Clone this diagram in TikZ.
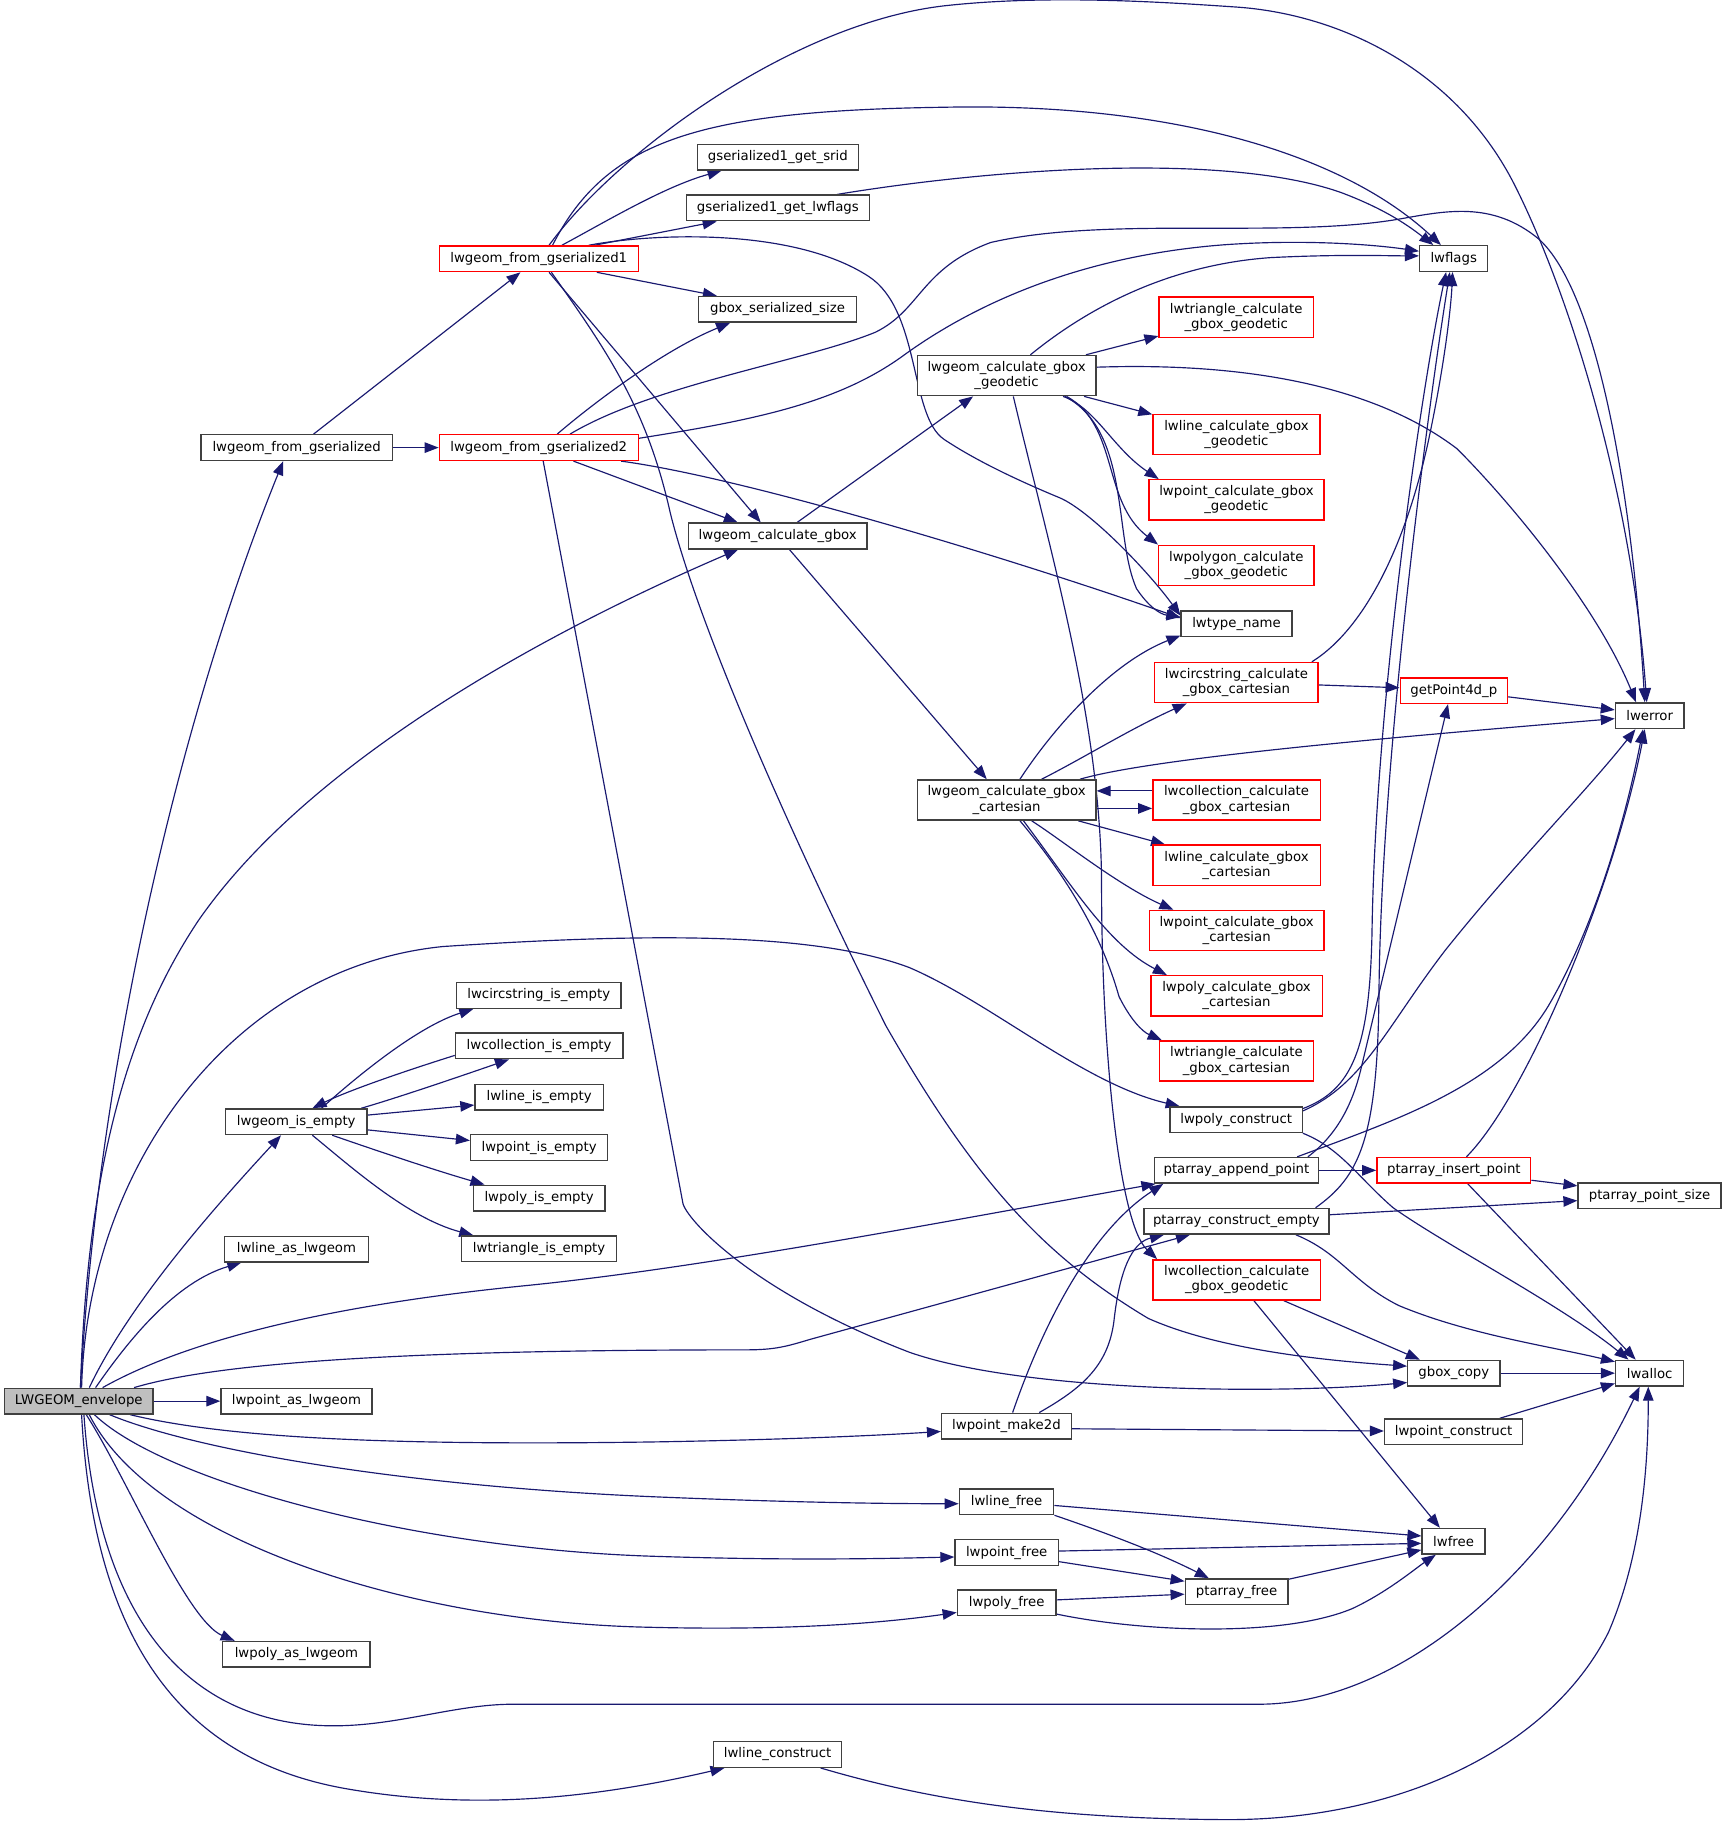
\documentclass[tikz,border=0pt]{standalone}
\usepackage{fontspec}
\setmainfont{DejaVu Sans}
\usetikzlibrary{arrows.meta}
\pgfdeclarelayer{bg}
\pgfsetlayers{bg,main}
\definecolor{edgec}{HTML}{191970}
\definecolor{boxc}{HTML}{404040}
\definecolor{envfill}{HTML}{BFBFBF}
\newcommand{\fnt}{\fontsize{11.4pt}{12.9pt}\selectfont}
\tikzset{
  fn/.style={draw=boxc, line width=1.2pt, fill=white, inner sep=0pt, minimum height=22pt, font=\fnt, align=center, text=black},
  fnr/.style={fn, draw=red},
  fntwo/.style={minimum height=34.5pt},
  ed/.style={draw=edgec, line width=1pt, -{Triangle[length=12pt,width=9pt]}},
}
\begin{document}
\begin{tikzpicture}[x=1pt,y=-1pt]
\useasboundingbox (0,0) rectangle (1481.5,1568.2);
% nodes
\node[fn, fill=envfill, minimum width=127.6pt] (env) at (67.6,1202) {LWGEOM\_envelope};
\node[fn, minimum width=164pt] (lfg) at (254.5,384) {lwgeom\_from\_gserialized};
\node[fnr, minimum width=170.6pt] (g1) at (462.2,222) {lwgeom\_from\_gserialized1};
\node[fnr, minimum width=170.6pt] (g2) at (462.2,384) {lwgeom\_from\_gserialized2};
\node[fn, minimum width=138pt] (srid) at (667.3,134.8) {gserialized1\_get\_srid};
\node[fn, minimum width=157pt] (glwf) at (667.3,178.4) {gserialized1\_get\_lwflags};
\node[fn, minimum width=135.3pt] (gss) at (667,265.4) {gbox\_serialized\_size};
\node[fn, minimum width=153.4pt] (lcg) at (667.2,459.8) {lwgeom\_calculate\_gbox};
\node[fn, minimum width=58.4pt] (lwflags) at (1247.1,221.8) {lwflags};
\node[fnr, fntwo, minimum width=132.3pt] (trig) at (1060.5,272.2) {lwtriangle\_calculate\\\_gbox\_geodetic};
\node[fn, fntwo, minimum width=153.3pt] (geo) at (863.5,322.2) {lwgeom\_calculate\_gbox\\\_geodetic};
\node[fnr, fntwo, minimum width=143.2pt] (lineg) at (1060.7,372.6) {lwline\_calculate\_gbox\\\_geodetic};
\node[fnr, fntwo, minimum width=150.2pt] (pointg) at (1060.7,428.8) {lwpoint\_calculate\_gbox\\\_geodetic};
\node[fnr, fntwo, minimum width=133.2pt] (polyg) at (1060.6,485) {lwpolygon\_calculate\\\_gbox\_geodetic};
\node[fn, minimum width=95pt] (ltn) at (1060.8,535.2) {lwtype\_name};
\node[fnr, fntwo, minimum width=140.2pt] (circc) at (1060.7,585.6) {lwcircstring\_calculate\\\_gbox\_cartesian};
\node[fnr, minimum width=92pt] (gp4d) at (1247.2,592.5) {getPoint4d\_p};
\node[fn, minimum width=58.7pt] (lwerror) at (1415.2,614) {lwerror};
\node[fn, fntwo, minimum width=153.3pt] (cart) at (863.5,686.3) {lwgeom\_calculate\_gbox\\\_cartesian};
\node[fnr, fntwo, minimum width=143.7pt] (collc) at (1060.8,686.3) {lwcollection\_calculate\\\_gbox\_cartesian};
\node[fnr, fntwo, minimum width=143.7pt] (linec) at (1060.8,742.3) {lwline\_calculate\_gbox\\\_cartesian};
\node[fnr, fntwo, minimum width=150pt] (pointc) at (1060.9,798.3) {lwpoint\_calculate\_gbox\\\_cartesian};
\node[fnr, fntwo, minimum width=147pt] (polycc) at (1060.8,854.3) {lwpoly\_calculate\_gbox\\\_cartesian};
\node[fnr, fntwo, minimum width=132pt] (tric) at (1060.7,910.2) {lwtriangle\_calculate\\\_gbox\_cartesian};
\node[fn, minimum width=113.3pt] (lpcon) at (1060.5,960.6) {lwpoly\_construct};
\node[fn, minimum width=140.8pt] (pap) at (1060.7,1004) {ptarray\_append\_point};
\node[fnr, minimum width=132pt] (pip) at (1247.2,1004) {ptarray\_insert\_point};
\node[fn, minimum width=122.6pt] (pps) at (1415.1,1025.7) {ptarray\_point\_size};
\node[fn, minimum width=158.8pt] (pce) at (1060.7,1047.7) {ptarray\_construct\_empty};
\node[fnr, fntwo, minimum width=143.4pt] (collg) at (1060.9,1098) {lwcollection\_calculate\\\_gbox\_geodetic};
\node[fn, minimum width=79pt] (gbc) at (1247.2,1178) {gbox\_copy};
\node[fn, minimum width=58.4pt] (lwalloc) at (1415.2,1178) {lwalloc};
\node[fn, minimum width=118.4pt] (lptc) at (1247,1228.3) {lwpoint\_construct};
\node[fn, minimum width=111.2pt] (mk2d) at (863.4,1223.4) {lwpoint\_make2d};
\node[fn, minimum width=81pt] (lwlf) at (863.5,1288.3) {lwline\_free};
\node[fn, minimum width=54pt] (lwfree) at (1247,1322.2) {lwfree};
\node[fn, minimum width=88.6pt] (lwptf) at (863.6,1331.9) {lwpoint\_free};
\node[fn, minimum width=88pt] (ptf) at (1060.8,1365.5) {ptarray\_free};
\node[fn, minimum width=84.7pt] (lwpf) at (863.6,1375.1) {lwpoly\_free};
\node[fn, minimum width=110pt] (lwlc) at (667.1,1505.1) {lwline\_construct};
\node[fn, minimum width=141pt] (cis) at (462.2,854) {lwcircstring\_is\_empty};
\node[fn, minimum width=143.6pt] (colis) at (462.5,897.3) {lwcollection\_is\_empty};
\node[fn, minimum width=110pt] (lis) at (462.5,941.1) {lwline\_is\_empty};
\node[fn, minimum width=117.6pt] (pis) at (462.5,984.5) {lwpoint\_is\_empty};
\node[fn, minimum width=113pt] (polyis) at (462.5,1027.8) {lwpoly\_is\_empty};
\node[fn, minimum width=133pt] (tris) at (462.5,1071.3) {lwtriangle\_is\_empty};
\node[fn, minimum width=121.4pt] (gie) at (254.1,962.3) {lwgeom\_is\_empty};
\node[fn, minimum width=123.4pt] (lala) at (254.3,1071.5) {lwline\_as\_lwgeom};
\node[fn, minimum width=129.4pt] (lpal) at (254.3,1202) {lwpoint\_as\_lwgeom};
\node[fn, minimum width=126.5pt] (lpoal) at (254.3,1419.2) {lwpoly\_as\_lwgeom};
% edges
\begin{pgfonlayer}{bg}
\fill[white] (0,0) rectangle (1481.5,1568.2);
% LWGEOM_envelope
\draw[ed] ([xshift=1.4pt]env.north) .. controls (85,900) and (160,600) .. ([xshift=-11.5pt]lfg.south);
\draw[ed] ([xshift=1.4pt]env.north) .. controls (75,1000) and (110,880) .. (170,790) .. controls (260,660) and (450,550) .. ([xshift=-34pt]lcg.south);
\draw[ed] ([xshift=9pt]env.north) .. controls (110,1120) and (180,1040) .. ([xshift=-13pt]gie.south);
\draw[ed] ([xshift=14.4pt]env.north) .. controls (110,1150) and (150,1100) .. ([xshift=-47.3pt]lala.south);
\draw[ed] ([xshift=2.4pt]env.north) .. controls (75,1000) and (200,830) .. (380,812) .. controls (560,800) and (700,800) .. (780,830) .. controls (850,860) and (930,930) .. ([xshift=-48.5pt]lpcon.north);
\draw[ed] ([xshift=20.4pt]env.north) .. controls (160,1150) and (280,1120) .. (450,1103) .. controls (600,1088) and (800,1050) .. ([xshift=1.5pt]pap.south west);
\draw[ed] ([xshift=47.4pt]env.north) .. controls (200,1165) and (400,1158) .. (640,1158) .. controls (665,1158) and (675,1155) .. (695,1149) -- ([xshift=-39.9pt]pce.south);
\draw[ed] (env.east) -- (lpal.west);
\draw[ed] ([xshift=44pt]env.south) .. controls (200,1235) and (350,1240) .. (560,1237) .. controls (680,1235) and (760,1231) .. ([yshift=-4.6pt]mk2d.west);
\draw[ed] ([xshift=26.4pt]env.south) .. controls (170,1245) and (350,1275) .. (560,1284) .. controls (680,1289) and (760,1290) .. ([yshift=-1.7pt]lwlf.west);
\draw[ed] ([xshift=13.4pt]env.south) .. controls (140,1270) and (350,1328) .. (558,1335) .. controls (680,1339) and (760,1337) .. ([yshift=-3.8pt]lwptf.west);
\draw[ed] ([xshift=9pt]env.south) .. controls (130,1320) and (350,1392) .. (558,1396) .. controls (680,1399) and (760,1392) .. ([yshift=-8.2pt]lwpf.west);
\draw[ed] ([xshift=6.4pt]env.south) .. controls (110,1270) and (160,1390) .. ([xshift=-53pt]lpoal.north);
\draw[ed] ([xshift=4.4pt]env.south) .. controls (85,1400) and (170,1480) .. (284.5,1480.5) .. controls (340,1481) and (390,1462) .. (440,1462) -- (1080,1462) .. controls (1200,1462) and (1330,1350) .. ([xshift=-8.6pt]lwalloc.south);
\draw[ed] ([xshift=2.4pt]env.south) .. controls (80,1400) and (150,1510) .. (300,1535) .. controls (400,1552) and (500,1545) .. ([xshift=-45.6pt]lwlc.south);
% lwgeom_from_gserialized
\draw[ed] ([xshift=14.5pt]lfg.north) -- ([xshift=-15.7pt]g1.south);
\draw[ed] (lfg.east) -- (g2.west);
% gserialized1
\draw[ed] ([xshift=8.8pt]g1.north) .. controls (530,130) and (680,20) .. (810,5) .. controls (900,-5) and (1000,2) .. (1060,6) .. controls (1150,12) and (1250,60) .. (1300,160) .. controls (1350,260) and (1400,430) .. ([xshift=-2.5pt]lwerror.north);
\draw[ed] ([xshift=11.8pt]g1.north) .. controls (520,120) and (600,95) .. (810,92) .. controls (1000,88) and (1150,130) .. ([xshift=-11pt]lwflags.north);
\draw[ed] ([xshift=19.8pt]g1.north) .. controls (520,190) and (570,160) .. ([xshift=-48.3pt]srid.south);
\draw[ed] ([xshift=47.8pt]g1.north) -- ([xshift=-52.5pt]glwf.south);
\draw[ed] ([xshift=42.8pt]g1.north) .. controls (560,200) and (680,195) .. (745,237) .. controls (790,266) and (780,357) .. (810,377) .. controls (840,397) and (880,415) .. (909,427) .. controls (935,438) and (985,490) .. ([yshift=7pt]ltn.west);
\draw[ed] ([xshift=49.8pt]g1.south) -- ([xshift=-52pt]gss.north);
\draw[ed] ([xshift=8.8pt]g1.south) -- ([xshift=-14.6pt]lcg.north);
\draw[ed] ([xshift=10.8pt]g1.south) .. controls (520,300) and (555,350) .. (575,440) .. controls (600,540) and (680,720) .. (760,880) .. controls (840,1020) and (900,1080) .. (985,1131) .. controls (1050,1160) and (1150,1168) .. ([yshift=6pt]gbc.west);
% gserialized2
\draw[ed] ([xshift=15.8pt]g2.north) .. controls (510,345) and (570,300) .. ([xshift=-40.7pt]gss.south);
\draw[ed] ([xshift=26.8pt]g2.north) .. controls (560,330) and (690,310) .. (751,285) .. controls (790,266) and (790,230) .. (850,208) .. controls (950,185) and (1100,205) .. (1200,188) .. controls (1240,181) and (1280,172) .. (1320,205) .. controls (1370,250) and (1400,420) .. ([xshift=-4.2pt]lwerror.north);
\draw[ed] ([yshift=8pt]g2.east) .. controls (650,360) and (720,345) .. (775,305) .. controls (830,265) and (920,220) .. (1050,210) .. controls (1120,205) and (1180,210) .. ([yshift=6.3pt]lwflags.west);
\draw[ed] ([xshift=70.6pt]g2.south) .. controls (640,410) and (870,480) .. ([yshift=5pt]ltn.west);
\draw[ed] ([xshift=29.8pt]g2.south) -- ([xshift=-34.3pt]lcg.north);
\draw[ed] ([xshift=3.8pt]g2.south) -- (586,1033) .. controls (592,1050) and (650,1110) .. (780,1160) .. controls (880,1195) and (1100,1196) .. ([yshift=-8pt]gbc.west);
% lwgeom_calculate_gbox
\draw[ed] ([xshift=16.6pt]lcg.north) -- ([xshift=-28.7pt]geo.south);
\draw[ed] ([xshift=10pt]lcg.south) -- ([xshift=-17pt]cart.north);
% geodetic
\draw[ed] ([xshift=20.5pt]geo.north) .. controls (920,275) and (990,228) .. (1090,221) .. controls (1150,218) and (1190,219.5) .. ([yshift=2.3pt]lwflags.west);
\draw[ed] ([xshift=68.1pt]geo.north) -- ([yshift=-16.1pt]trig.west);
\draw[ed] ([yshift=7.2pt]geo.east) .. controls (1060,311) and (1175,328) .. (1250,385) .. controls (1295,430) and (1370,520) .. ([xshift=-11.7pt]lwerror.north);
\draw[ed] ([xshift=66.5pt]geo.south) -- ([yshift=17.1pt]lineg.west);
\draw[ed] ([xshift=48.5pt]geo.south) .. controls (940,350) and (955,385) .. ([xshift=-66.7pt]pointg.north);
\draw[ed] ([xshift=51.5pt]geo.south) .. controls (960,365) and (945,430) .. (polyg.north west);
\draw[ed] ([xshift=50.1pt]geo.south) .. controls (970,370) and (955,460) .. (975,505) .. controls (985,520) and (995,527) .. ([yshift=6pt]ltn.west);
\draw[ed] ([xshift=5.8pt]geo.south) .. controls (900,470) and (945,620) .. (945,760) .. controls (945,900) and (960,1050) .. ([xshift=4.1pt]collg.north west);
% cartesian
\draw[ed] ([xshift=11.5pt]cart.north) .. controls (900,630) and (950,570) .. ([yshift=-10pt]ltn.west);
\draw[ed] ([xshift=30.1pt]cart.north) .. controls (930,650) and (970,625) .. ([xshift=-42.7pt]circc.south);
\draw[ed] ([xshift=63pt]cart.north) .. controls (990,650) and (1200,632) .. ([yshift=-2.5pt]lwerror.west);
\draw[ed] ([yshift=-7.2pt]cart.east) -- ([yshift=-7.2pt]collc.west);
\draw[ed] ([yshift=7.8pt]collc.west) -- ([yshift=7.8pt]cart.east);
\draw[ed] ([xshift=61.5pt]cart.south) -- ([xshift=-61.3pt]linec.north);
\draw[ed] ([xshift=21.5pt]cart.south) .. controls (910,720) and (960,760) .. ([xshift=-54.3pt]pointc.north);
\draw[ed] ([xshift=14.5pt]cart.south) .. controls (920,760) and (950,810) .. ([xshift=-59.8pt]polycc.north);
\draw[ed] ([xshift=11.5pt]cart.south) .. controls (930,770) and (950,820) .. (960,855) .. controls (970,875) and (980,885) .. ([xshift=-64.1pt]tric.north);
% circstring, getPoint4d_p
\draw[ed] ([xshift=64.7pt]circc.north) .. controls (1170,540) and (1205,470) .. (1225,380) .. controls (1240,310) and (1245,260) .. ([xshift=-1pt]lwflags.south);
\draw[ed] ([yshift=-2pt]circc.east) -- ([yshift=2.5pt]gp4d.west);
\draw[ed] ([yshift=-5.3pt]gp4d.east) -- ([yshift=5pt]lwerror.west);
% lwpoly_construct
\draw[ed] ([yshift=9.6pt]lpcon.east) .. controls (1160,935) and (1175,900) .. (1177,800) .. controls (1180,600) and (1220,330) .. ([xshift=-6.5pt]lwflags.south);
\draw[ed] ([yshift=7.6pt]lpcon.east) .. controls (1170,930) and (1190,880) .. (1240,815) .. controls (1300,740) and (1360,680) .. ([xshift=-12.2pt]lwerror.south);
\draw[ed] (lpcon.south east) .. controls (1150,985) and (1165,1010) .. (1195,1036) .. controls (1240,1068) and (1340,1120) .. ([xshift=-18.2pt]lwalloc.north);
% ptarray_append_point
\draw[ed] ([xshift=52.1pt]pap.north) .. controls (1200,960) and (1290,930) .. (1330,860) .. controls (1370,790) and (1395,700) .. ([xshift=-5.7pt]lwerror.south);
\draw[ed] ([xshift=61.3pt]pap.north) .. controls (1145,975) and (1160,950) .. (1168,915) -- ([xshift=-5pt]gp4d.south);
\draw[ed] (pap.east) -- (pip.west);
% ptarray_insert_point
\draw[ed] ([xshift=10.8pt]pip.north) .. controls (1310,940) and (1385,760) .. ([xshift=-4.2pt]lwerror.south);
\draw[ed] ([yshift=-8.5pt]pip.east) -- ([yshift=8.4pt]pps.west);
\draw[ed] ([xshift=12pt]pip.south) -- ([xshift=-12pt]lwalloc.north);
% ptarray_construct_empty
\draw[ed] ([xshift=67.9pt]pce.north) .. controls (1165,1010) and (1182,980) .. (1183,850) .. controls (1185,650) and (1225,350) .. ([xshift=-3.3pt]lwflags.south);
\draw[ed] ([yshift=5.6pt]pce.east) -- ([yshift=-4.3pt]pps.west);
\draw[ed] ([xshift=51pt]pce.south) .. controls (1150,1075) and (1160,1100) .. (1200,1120) .. controls (1260,1145) and (1330,1155) .. ([yshift=9.8pt]lwalloc.west);
% collection geodetic, gbox_copy, lwpoint_construct
\draw[ed] ([xshift=40.5pt]collg.south) -- ([xshift=-29.2pt]gbc.north);
\draw[ed] ([xshift=14.8pt]collg.south) -- ([xshift=-11.8pt]lwfree.north);
\draw[ed] (gbc.east) -- (lwalloc.west);
\draw[ed] ([xshift=39.6pt]lptc.north) -- ([yshift=-8.8pt]lwalloc.west);
% lwpoint_make2d
\draw[ed] ([xshift=5.3pt]mk2d.north) .. controls (890,1150) and (930,1060) .. ([xshift=8.2pt]pap.south west);
\draw[ed] ([xshift=28.1pt]mk2d.north) .. controls (930,1190) and (952,1170) .. (956,1130) .. controls (962,1080) and (975,1065) .. ([xshift=-62.2pt]pce.south);
\draw[ed] ([yshift=-2.3pt]mk2d.east) -- ([yshift=0.7pt]lptc.west);
% frees
\draw[ed] ([yshift=-3.2pt]lwlf.east) -- ([yshift=4.5pt]lwfree.west);
\draw[ed] (lwlf.south east) .. controls (940,1312) and (990,1330) .. ([xshift=-23.8pt]ptf.north);
\draw[ed] ([yshift=1.3pt]lwptf.east) -- ([yshift=-1.8pt]lwfree.west);
\draw[ed] ([yshift=-7.8pt]lwptf.east) -- ([yshift=9pt]ptf.west);
\draw[ed] ([yshift=2.6pt]lwpf.east) -- ([yshift=-2.1pt]ptf.west);
\draw[ed] ([yshift=-9.6pt]lwpf.east) .. controls (980,1400) and (1100,1405) .. (1160,1380) .. controls (1190,1366) and (1215,1345) .. ([xshift=-15.3pt]lwfree.south);
\draw[ed] ([yshift=10.7pt]ptf.east) -- ([yshift=-7.4pt]lwfree.west);
% lwline_construct
\draw[ed] ([xshift=36.9pt]lwlc.south) .. controls (800,1545) and (900,1560) .. (1050,1561) .. controls (1200,1562) and (1330,1500) .. (1380,1400) .. controls (1410,1330) and (1414,1250) .. ([xshift=-1.2pt]lwalloc.south);
% lwgeom_is_empty
\draw[ed] ([xshift=21.7pt]gie.north) .. controls (310,920) and (360,880) .. ([xshift=-56.2pt]cis.south);
\draw[ed] ([yshift=-8.1pt]colis.west) .. controls (350,918) and (300,935) .. ([xshift=13.9pt]gie.north);
\draw[ed] ([xshift=55.9pt]gie.north) .. controls (340,942) and (390,925) .. ([xshift=-25.9pt]colis.south);
\draw[ed] ([yshift=5.7pt]gie.east) -- ([yshift=-6.9pt]lis.west);
\draw[ed] ([yshift=-7pt]gie.east) -- ([yshift=6.1pt]pis.west);
\draw[ed] ([xshift=30.9pt]gie.south) .. controls (320,986) and (370,1003) .. ([xshift=-46.9pt]polyis.north);
\draw[ed] ([xshift=13.9pt]gie.south) .. controls (300,1000) and (350,1045) .. ([xshift=-56.5pt]tris.north);
% gserialized1_get_lwflags
\draw[ed] ([xshift=50.7pt]glwf.north) .. controls (850,145) and (1050,130) .. (1150,165) .. controls (1190,180) and (1210,195) .. ([xshift=-17.5pt]lwflags.north);
\end{pgfonlayer}
\end{tikzpicture}
\end{document}
